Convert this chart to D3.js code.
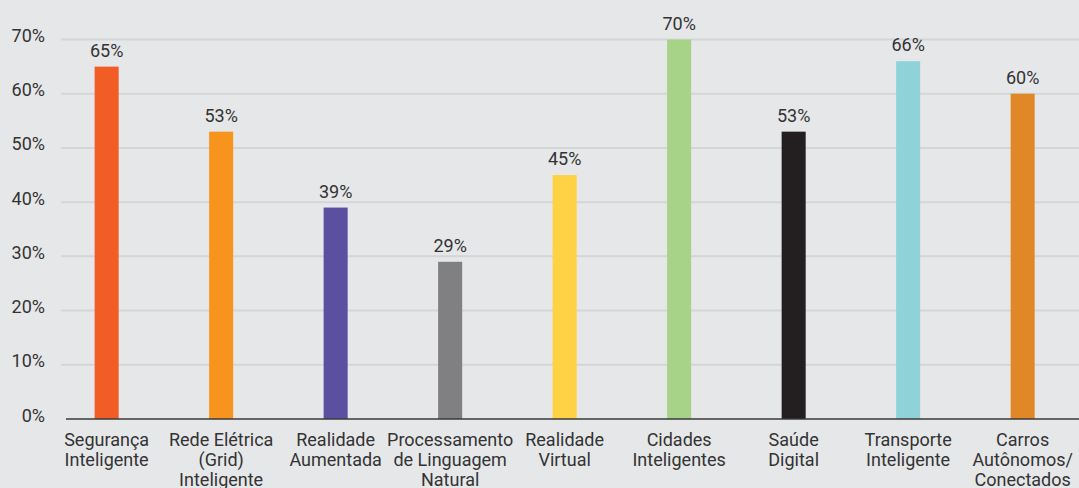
<!DOCTYPE html>
<html>
<head>
<meta charset="utf-8">
<script src="https://cdn.jsdelivr.net/npm/d3@7"></script>
<style>
  html, body { margin: 0; padding: 0; background: #e6e7e9; }
  svg { display: block; }
  text { font-family: Roboto, "Noto Sans", sans-serif; fill: #333333; }
</style>
</head>
<body>
<svg id="chart" width="1079" height="488"></svg>
<script>
// Categories (line breaks as drawn under each bar)
const categories = [
  ["Segurança", "Inteligente"],
  ["Rede Elétrica", "(Grid)", "Inteligente"],
  ["Realidade", "Aumentada"],
  ["Processamento", "de Linguagem", "Natural"],
  ["Realidade", "Virtual"],
  ["Cidades", "Inteligentes"],
  ["Saúde", "Digital"],
  ["Transporte", "Inteligente"],
  ["Carros", "Autônomos/", "Conectados"]
];
// Share of respondents, in percent
const values = [65, 53, 39, 29, 45, 70, 53, 66, 60];
const barColors = ["#f15d24", "#f7941d", "#5b4fa0", "#808083", "#ffd145",
                   "#a6d388", "#231f20", "#8fd3d8", "#e08828"];
const yTicks = [0, 10, 20, 30, 40, 50, 60, 70];

const svg = d3.select("#chart");
const W = 1079;
const gridLeft = 61;
const y0 = 419, y70 = 39.5;

const x = d3.scaleBand()
  .domain(d3.range(categories.length))
  .range([49.4, 1079.9])
  .paddingInner(0.79)
  .paddingOuter(0.395);

const y = d3.scaleLinear().domain([0, 70]).range([y0, y70]);

// Horizontal gridlines
svg.append("g")
  .selectAll("line")
  .data(yTicks.filter(d => d > 0))
  .join("line")
  .attr("x1", gridLeft).attr("x2", W)
  .attr("y1", d => y(d)).attr("y2", d => y(d))
  .attr("stroke", "#d4d5d7")
  .attr("stroke-width", 2);

// Y axis tick labels
const yAxis = d3.axisLeft(y).tickValues(yTicks).tickSize(0).tickPadding(0)
  .tickFormat(d => d + "%");
const gy = svg.append("g").attr("transform", "translate(45,0)").call(yAxis);
gy.select(".domain").remove();
gy.selectAll("text")
  .attr("font-size", 18)
  .attr("dy", null)
  .attr("y", 2)
  .style("font-family", "Roboto, sans-serif")
  .attr("fill", "#333333");

// Bars
svg.append("g")
  .selectAll("rect")
  .data(values)
  .join("rect")
  .attr("x", (d, i) => x(i))
  .attr("width", x.bandwidth())
  .attr("y", d => y(d))
  .attr("height", d => y0 - y(d))
  .attr("fill", (d, i) => barColors[i]);

// Value labels
svg.append("g")
  .selectAll("text")
  .data(values)
  .join("text")
  .attr("x", (d, i) => x(i) + x.bandwidth() / 2)
  .attr("y", d => y(d) - 10)
  .attr("text-anchor", "middle")
  .attr("font-size", 18)
  .text(d => d + "%");

// Baseline
svg.append("line")
  .attr("x1", 66).attr("x2", W)
  .attr("y1", y0).attr("y2", y0)
  .attr("stroke", "#3a3a3a")
  .attr("stroke-width", 1.5);

// Category labels
const cat = svg.append("g")
  .selectAll("text")
  .data(categories)
  .join("text")
  .attr("x", (d, i) => x(i) + x.bandwidth() / 2)
  .attr("y", 446)
  .attr("text-anchor", "middle")
  .attr("font-size", 18);
cat.selectAll("tspan")
  .data(d => d)
  .join("tspan")
  .attr("x", function () { return d3.select(this.parentNode).attr("x"); })
  .attr("dy", (d, i) => i === 0 ? 0 : 20)
  .text(d => d);
</script>
</body>
</html>
